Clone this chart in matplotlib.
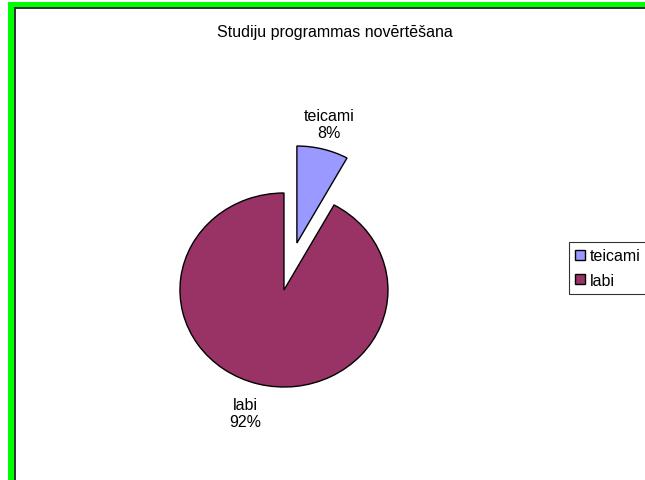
import matplotlib.pyplot as plt
from matplotlib.patches import Rectangle

plt.rcParams['font.family'] = ['Liberation Sans', 'DejaVu Sans']

# data
names = ['teicami', 'labi']
percents = [8, 92]
colors = ['#9999FF', '#993366']
explode = [0.5, 0.0]
title = 'Studiju programmas novērtēšana'

W, H = 645, 481
fs = 11.5
fig = plt.figure(figsize=(W / 100, H / 100), dpi=100)

# green frame on left/top edges + dark inner line
fig.patches.append(Rectangle((8 / W, 0), 6 / W, (H - 3) / H, transform=fig.transFigure,
                             facecolor='#00FF00', edgecolor='none'))
fig.patches.append(Rectangle((8 / W, (H - 8) / H), (W - 8) / W, 5 / H, transform=fig.transFigure,
                             facecolor='#00FF00', edgecolor='none'))
fig.patches.append(Rectangle((14 / W, 0), 1.5 / W, (H - 8) / H, transform=fig.transFigure,
                             facecolor='#333333', edgecolor='none'))
fig.patches.append(Rectangle((14 / W, (H - 9.5) / H), (W - 14) / W, 1.5 / H, transform=fig.transFigure,
                             facecolor='#333333', edgecolor='none'))

fig.text(335 / W, 1 - 33 / H, title, ha='center', va='center', fontsize=fs)

# axes placed so that unit radius ~ 104px wide, 97px tall
ax = fig.add_axes([150 / W, (H - 440) / H, 270 / W, 340 / H])
labels = [f'{n}\n{p}%' for n, p in zip(names, percents)]
wedges, texts = ax.pie(percents, labels=labels, colors=colors, explode=explode,
                       startangle=90, counterclock=False, labeldistance=1.24,
                       wedgeprops=dict(edgecolor='black', linewidth=1.0),
                       textprops=dict(fontsize=fs, linespacing=1.15))
for t in texts:
    t.set_ha('center')
    t.set_va('center')
x, y = texts[0].get_position()
texts[0].set_position((x, y + 0.025))
# labi label sits a bit further left in the original
x, y = texts[1].get_position()
texts[1].set_position((x - 0.065, y - 0.07))

ax.set_aspect('auto')
ax.set_xlim(-1.288, 1.308)
ax.set_ylim(-1.536, 1.969)
ax.axis('off')

leg = fig.legend(wedges, names, loc='upper left', bbox_to_anchor=(569 / W, 1 - 243 / H),
                 fontsize=fs, frameon=True, fancybox=False, shadow=False,
                 handlelength=0.6, handleheight=0.6, handletextpad=0.3,
                 borderpad=0.4, labelspacing=0.6, borderaxespad=0)
leg.get_frame().set_edgecolor('black')
leg.get_frame().set_linewidth(0.8)

fig.savefig('out.png', dpi=100)
